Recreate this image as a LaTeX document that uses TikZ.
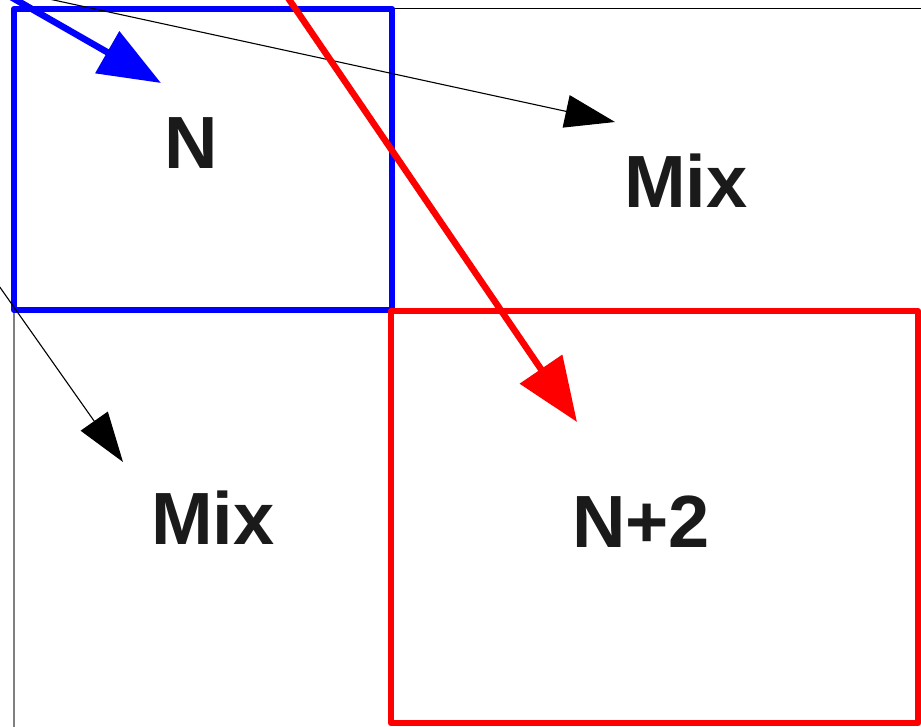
\documentclass[tikz,border=0pt]{standalone}
\usepackage{fontspec}
\setmainfont{Liberation Sans}
\usetikzlibrary{arrows.meta}
\definecolor{txt}{HTML}{1A1A1A}
\definecolor{myblue}{HTML}{0000FF}
\definecolor{myred}{HTML}{FF0000}
\begin{document}
\begin{tikzpicture}[x=1pt,y=-1pt,
  bluebox/.style={draw=myblue,line width=6.5pt,line join=round,inner sep=0pt,minimum width=378pt,minimum height=301pt},
  redbox/.style={draw=myred,line width=6.5pt,line join=round,inner sep=0pt,minimum width=527pt,minimum height=412pt},
  lbl/.style={font=\fontsize{74}{80}\selectfont\bfseries,text=txt,inner sep=0pt,anchor=base},
  thinarrow/.style={draw=black,line width=1.1pt,-{Triangle[length=50pt,width=33pt]}},
  bluearrow/.style={draw=myblue,line width=6.5pt,-{Triangle[length=62pt,width=47pt]}},
  redarrow/.style={draw=myred,line width=6.5pt,-{Triangle[length=64pt,width=50pt]}}]
\useasboundingbox (0,0) rectangle (921,726);
\clip (0,0) rectangle (921,726);
\fill[white] (0,0) rectangle (921,726);
% frame lines
\coordinate (tl) at (393,8.5);
\coordinate (tr) at (925,8.5);
\coordinate (lt) at (14,310);
\coordinate (lb) at (14,730);
\draw[black,line width=1.3pt] (tl) -- (tr);
\draw[gray,line width=2pt] (lt) -- (lb);
% boxes
\node[bluebox] (nbox) at (203,159.5) {};
\node[redbox] (n2box) at (654.5,517) {};
% labels
\node[lbl] (n) at (191,168) {N};
\node[lbl] (mix1) at (686,207) {Mix};
\node[lbl] (mix2) at (213,544) {Mix};
\node[lbl] (n2) at (641,547) {N+2};
% arrows
\coordinate (a1s) at (-20,-16);
\coordinate (a1e) at (615,122);
\coordinate (a2s) at (-8,276);
\coordinate (a2e) at (123,462);
\coordinate (bs) at (-10,-15);
\coordinate (be) at (161,83);
\coordinate (rs) at (284,-8);
\coordinate (re) at (577,422);
\draw[thinarrow] (a1s) -- (a1e);
\draw[thinarrow] (a2s) -- (a2e);
\draw[bluearrow] (bs) -- (be);
\draw[redarrow] (rs) -- (re);
\end{tikzpicture}
\end{document}
